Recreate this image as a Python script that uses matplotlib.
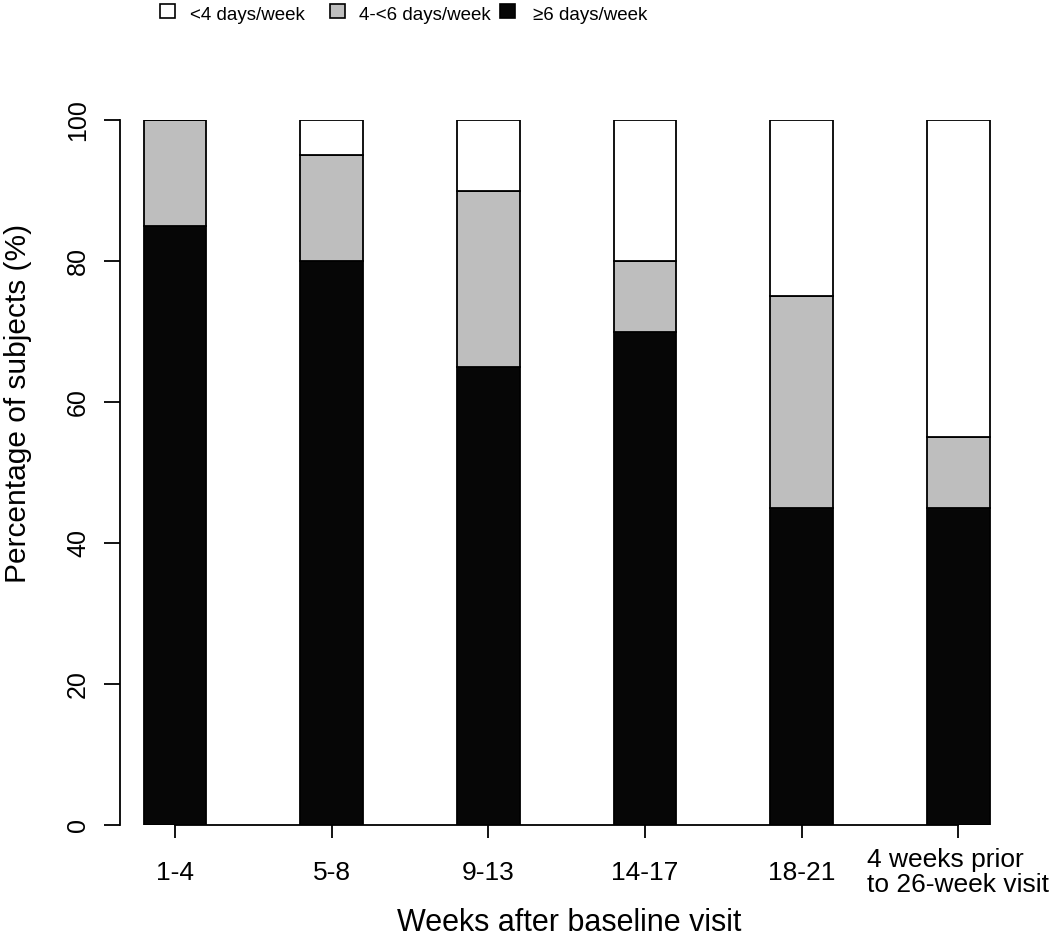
import matplotlib
matplotlib.use("Agg")
import matplotlib.pyplot as plt
from matplotlib.patches import Rectangle
import numpy as np

plt.rcParams['font.family'] = ['Liberation Sans', 'DejaVu Sans']

categories = ["1-4", "5-8", "9-13", "14-17", "18-21", "4 weeks prior\nto 26-week visit"]
ge6 = [85, 80, 65, 70, 45, 45]          # >=6 days/week
mid = [15, 15, 25, 10, 30, 10]          # 4-<6 days/week
lt4 = [0, 5, 10, 20, 25, 45]            # <4 days/week
yticks = [0, 20, 40, 60, 80, 100]
series_labels = ['<4 days/week', '4-<6 days/week', '\u22656 days/week']
series_colors = ['white', '#bebebe', '#060606']

W, H = 1050, 939
fig = plt.figure(figsize=(W / 100, H / 100), dpi=100)
ax = fig.add_axes([120 / W, (H - 825) / H, 890 / W, 705 / H])

x = np.arange(len(categories))
w = 0.40
b1 = ax.bar(x, ge6, w, color=series_colors[2], edgecolor='black', linewidth=1.3)
b2 = ax.bar(x, mid, w, bottom=ge6, color=series_colors[1], edgecolor='black', linewidth=1.3)
bot3 = [a + b for a, b in zip(ge6, mid)]
b3 = ax.bar(x, lt4, w, bottom=bot3, color=series_colors[0], edgecolor='black', linewidth=1.3)

ax.set_xlim(-0.351, 5.33)
ax.set_ylim(0, 100)
for s in ['top', 'right']:
    ax.spines[s].set_visible(False)
ax.spines['left'].set_bounds(0, 100)
ax.spines['bottom'].set_bounds(0, 5)
ax.spines['left'].set_linewidth(1.3)
ax.spines['bottom'].set_linewidth(1.3)

ax.set_yticks(yticks)
ax.set_yticklabels([str(v) for v in yticks], rotation=90, va='center', fontsize=18)
ax.set_xticks(x)
ax.set_xticklabels(categories, fontsize=19, linespacing=1.03)
ax.tick_params(axis='y', length=11.5, width=1.3, pad=10)
ax.tick_params(axis='x', length=9.4, width=1.3, pad=25)
for lab in ax.get_xticklabels():
    lab.set_va('center')
    lab.set_multialignment('left')

fig.text(18 / W, 1 - 403 / H, 'Percentage of subjects (%)', rotation=90,
         ha='center', va='center', fontsize=21.5)
ax.set_xlabel('Weeks after baseline visit', fontsize=22)
ax.xaxis.label.set_va('baseline')
ax.xaxis.set_label_coords((569 - 120) / 890, (825 - 931) / 705)

# legend (top, manual layout like R's legend(horiz=TRUE))
sq_x = [160, 330, 500]
tx_x = [190, 359, 533]
for sx, tx, lab, col in zip(sq_x, tx_x, series_labels, series_colors):
    fig.add_artist(Rectangle((sx / W, 1 - 18 / H), 15 / W, 14 / H, transform=fig.transFigure,
                             facecolor=col, edgecolor='black', linewidth=1.2))
    fig.text(tx / W, 1 - 19.5 / H, lab, ha='left', va='baseline', fontsize=13.5)

fig.savefig('out.png', dpi=100)
